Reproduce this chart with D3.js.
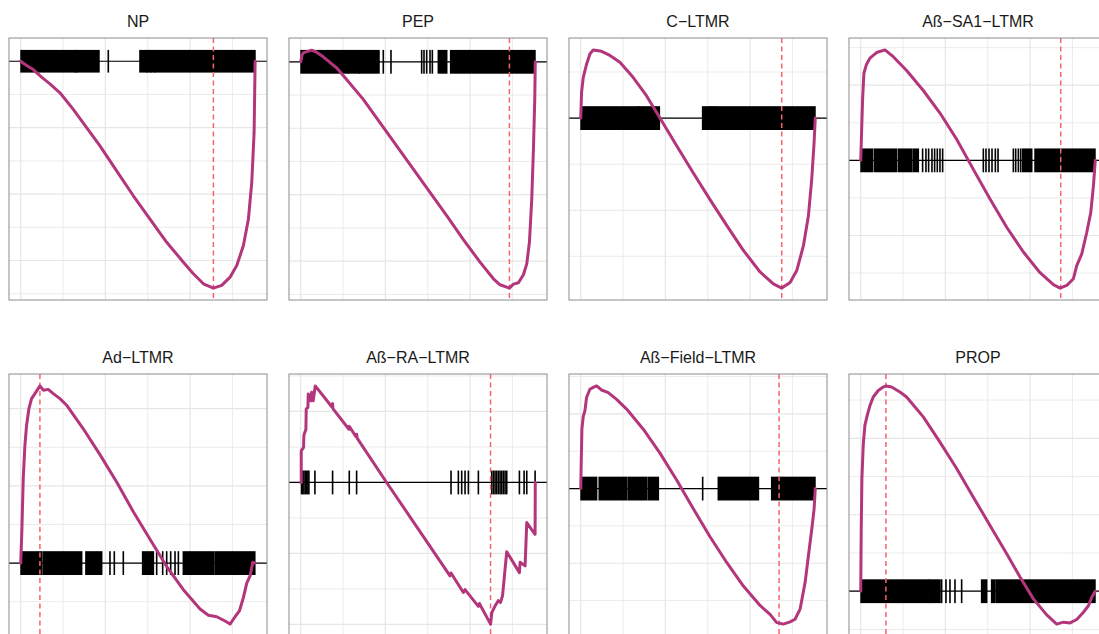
<!DOCTYPE html>
<html>
<head>
<meta charset="utf-8">
<script src="https://cdn.jsdelivr.net/npm/d3@7"></script>
<style>
  html, body { margin: 0; padding: 0; background: #ffffff; }
  svg { display: block; }
</style>
</head>
<body>
<div id="chart"></div>
<script>
// ---------------- DATA ----------------
const totalGenes = 27700;
const panelTitles = ["NP", "PEP", "C\u2212LTMR", "A\u00df\u2212SA1\u2212LTMR",
                     "Ad\u2212LTMR", "A\u00df\u2212RA\u2212LTMR", "A\u00df\u2212Field\u2212LTMR", "PROP"];

// running enrichment score: [rank, ES]
const esNP = [[0,0],[300,-0.006],[800,-0.014],[1478,-0.025],[2463,-0.048],[3448,-0.068],[4630,-0.095],[6206,-0.145],[7782,-0.2],[9358,-0.255],[11328,-0.33],[13298,-0.405],[15268,-0.475],[17238,-0.545],[19208,-0.605],[20390,-0.64],[21572,-0.67],[22754,-0.683],[23739,-0.675],[24724,-0.65],[25512,-0.615],[26300,-0.555],[26891,-0.475],[27285,-0.365],[27561,-0.215],[27679,-0.005],[27700,0]];
const esPEP = [[0,0],[150,0.02],[295,0.027],[1280,0.035],[1872,0.029],[2660,0.015],[4236,-0.018],[5418,-0.053],[7388,-0.113],[9358,-0.183],[11328,-0.253],[13298,-0.323],[15268,-0.393],[17238,-0.463],[19208,-0.535],[21178,-0.603],[22754,-0.653],[23542,-0.671],[24645,-0.681],[25118,-0.669],[25710,-0.665],[26300,-0.641],[26694,-0.608],[27010,-0.543],[27285,-0.413],[27482,-0.263],[27640,-0.113],[27700,0]];
const esCLTMR = [[0,0],[98,0.056],[295,0.088],[690,0.117],[1083,0.139],[1478,0.148],[2463,0.145],[3448,0.136],[4630,0.121],[6206,0.088],[7782,0.048],[9358,0],[11328,-0.06],[13298,-0.119],[15268,-0.177],[17238,-0.233],[19208,-0.287],[21178,-0.334],[22754,-0.36],[23739,-0.369],[24724,-0.357],[25512,-0.331],[26300,-0.277],[26891,-0.212],[27285,-0.132],[27561,-0.053],[27700,0]];
const esSA1 = [[0,0],[98,0.073],[217,0.161],[374,0.232],[690,0.256],[1083,0.272],[1872,0.287],[2857,0.294],[3842,0.276],[5418,0.239],[7388,0.186],[9358,0.126],[11328,0.056],[13298,-0.024],[15268,-0.103],[17238,-0.178],[19208,-0.244],[21178,-0.299],[22754,-0.331],[23542,-0.34],[24330,-0.333],[25118,-0.315],[25512,-0.28],[26103,-0.249],[26694,-0.192],[27167,-0.139],[27482,-0.068],[27700,0]];
const esAd = [[0,0],[138,0.088],[295,0.218],[493,0.305],[690,0.357],[965,0.4],[1280,0.426],[1675,0.439],[2266,0.459],[2660,0.448],[3250,0.45],[3842,0.439],[4630,0.426],[5418,0.409],[7388,0.348],[9358,0.281],[11328,0.21],[13298,0.133],[15268,0.062],[17238,-0.009],[19208,-0.069],[21178,-0.119],[22163,-0.135],[23148,-0.139],[24133,-0.15],[24724,-0.158],[25315,-0.139],[25827,-0.124],[26300,-0.089],[26694,-0.052],[27088,-0.033],[27404,0.002],[27700,0]];
const esRA = [[0,0],[59,0],[59,0.089],[335,0.099],[374,0.133],[611,0.15],[650,0.207],[847,0.211],[887,0.249],[1123,0.239],[1202,0.23],[1280,0.254],[1478,0.23],[1714,0.272],[3645,0.214],[3763,0.222],[3800,0.208],[5693,0.15],[5733,0.158],[6500,0.13],[6600,0.136],[6679,0.124],[10146,0],[17632,-0.263],[17750,-0.255],[19208,-0.31],[19405,-0.302],[20981,-0.349],[21100,-0.341],[22419,-0.399],[22577,-0.366],[22931,-0.349],[23325,-0.333],[23601,-0.338],[23837,-0.319],[24330,-0.195],[25827,-0.254],[25906,-0.225],[26497,-0.235],[26694,-0.113],[27679,-0.146],[27700,0]];
const esField = [[0,0],[59,0.07],[138,0.159],[295,0.193],[493,0.208],[690,0.244],[1083,0.266],[1478,0.271],[1872,0.275],[2463,0.264],[3250,0.257],[4236,0.239],[5418,0.213],[7388,0.159],[9358,0.095],[11328,0.023],[13298,-0.054],[15268,-0.129],[17238,-0.198],[19208,-0.261],[21178,-0.313],[22360,-0.337],[23148,-0.359],[23936,-0.363],[24724,-0.357],[25315,-0.35],[25906,-0.323],[26497,-0.252],[26891,-0.18],[27285,-0.109],[27561,-0.055],[27700,0]];
const esPROP = [[0,0],[59,0.163],[138,0.294],[295,0.382],[493,0.434],[768,0.46],[1083,0.485],[1478,0.508],[2069,0.525],[2660,0.534],[2975,0.537],[3645,0.534],[4630,0.521],[5418,0.508],[7388,0.456],[9358,0.39],[11328,0.321],[13298,0.246],[15268,0.172],[17238,0.098],[18814,0.037],[20390,-0.02],[21966,-0.062],[23148,-0.086],[23936,-0.081],[24724,-0.083],[25512,-0.074],[26300,-0.055],[26891,-0.038],[27285,-0.016],[27700,0]];

// gene-set hits: [fromRank, toRank] (single hit when equal)
const hitsNP = [[40,6380],[6440,6580],[6640,9236],[10343,10343],[14086,14850],[14920,15320],[15390,15830],[15900,27660]];
const hitsPEP = [[40,5580],[5660,6880],[6960,9240],[9752,9752],[10658,10658],[14283,14283],[14558,14558],[14874,14874],[15268,15268],[15544,15544],[16253,17238],[17710,27660]];
const hitsCLTMR = [[40,6770],[6840,6970],[7040,9279],[14401,15160],[15230,15440],[15500,15710],[15780,16030],[16100,27660]];
const hitsSA1 = [[40,1399],[1635,4236],[4472,6009],[6206,6797],[7309,7309],[7703,7703],[8018,8018],[8412,8412],[8727,8727],[9043,9043],[9358,9358],[9673,9673],[14480,14480],[14795,14795],[15150,15150],[15504,15504],[15898,15898],[16214,16214],[18026,18026],[18302,18302],[18617,18617],[18893,18893],[19129,20193],[20587,23542],[23739,27660]];
const hitsAd = [[40,2463],[2660,7191],[7703,9555],[10540,10540],[11052,11052],[12116,12116],[14401,15662],[16056,16056],[16765,16765],[17238,17238],[17710,17710],[18223,18223],[18617,18617],[19208,22754],[22951,27640]];
const hitsRA = [[98,98],[217,217],[374,374],[532,532],[690,690],[847,847],[965,965],[1675,1675],[3763,3763],[5733,5733],[6600,6600],[17750,17750],[18617,18617],[19011,19011],[19405,19405],[19799,19799],[20981,20981],[22557,22557],[22754,22754],[22951,22951],[23148,23148],[23345,23345],[23542,23542],[23739,23739],[23936,23936],[24133,24133],[24330,24330],[25827,25827],[26379,26379],[26694,26694],[27680,27680]];
const hitsField = [[40,1872],[2187,5418],[5615,7782],[7979,9161],[14401,14401],[16253,20981],[22557,27660]];
const hitsPROP = [[40,7950],[8050,9358],[9555,9555],[10067,10067],[10540,10540],[11131,11131],[11919,11919],[14283,14874],[15465,15859],[16056,27660]];

// rank of the leading-edge extreme (dashed line)
const peakRanks = [22754, 24645, 23739, 23620, 2266, 22419, 23424, 2975];

// x-axis grid breaks (ranks)
const xBreaks = [0, 5000, 10000, 15000, 20000, 25000];

// ---------------- CHART ----------------
const W = 1099, H = 634;
const esSeries = [esNP, esPEP, esCLTMR, esSA1, esAd, esRA, esField, esPROP];
const hitSeries = [hitsNP, hitsPEP, hitsCLTMR, hitsSA1, hitsAd, hitsRA, hitsField, hitsPROP];

const svg = d3.select("#chart").append("svg")
  .attr("width", W).attr("height", H)
  .attr("font-family", "'Liberation Sans', Arial, Helvetica, sans-serif");

const panelW = 258, panelH = 262;
const colStep = 280, rowStep = 336;
const left0 = 9, top0 = 38;

const curveColor = "#B3367C";
const dashColor = "#F8636A";
const gridColor = "#E6E6E6";

panelTitles.forEach((title, i) => {
  const col = i % 4, row = Math.floor(i / 4);
  const px = left0 + col * colStep;
  const py = top0 + row * rowStep;
  const es = esSeries[i];
  const hits = hitSeries[i];

  const esMax = d3.max(es, d => d[1]);
  const esMin = d3.min(es, d => d[1]);
  const tickH = (esMax - esMin) / 20;
  const lo = Math.min(esMin, -tickH), hi = Math.max(esMax, tickH);
  const yPad = (hi - lo) * 0.05;
  const xPad = totalGenes * 0.05;

  const x = d3.scaleLinear().domain([-xPad, totalGenes + xPad]).range([0, panelW]);
  const y = d3.scaleLinear().domain([lo - yPad, hi + yPad]).range([panelH, 0]);

  const g = svg.append("g").attr("transform", `translate(${px},${py})`);

  const clipId = "clip" + i;
  g.append("clipPath").attr("id", clipId)
    .append("rect").attr("width", panelW).attr("height", panelH);

  const inner = g.append("g").attr("clip-path", `url(#${clipId})`);

  // grid: y every 0.1, majors at 0.2
  const yLo = Math.ceil((lo - yPad) * 10), yHi = Math.floor((hi + yPad) * 10);
  const yBreaks = d3.range(yLo, yHi + 1);
  inner.selectAll("line.gy").data(yBreaks).join("line")
    .attr("x1", 0).attr("x2", panelW)
    .attr("y1", k => y(k / 10)).attr("y2", k => y(k / 10))
    .attr("stroke", gridColor)
    .attr("stroke-width", k => (Math.abs(k) % 2 === 0 ? 1.2 : 0.8));
  inner.selectAll("line.gx").data(xBreaks).join("line")
    .attr("y1", 0).attr("y2", panelH)
    .attr("x1", d => x(d)).attr("x2", d => x(d))
    .attr("stroke", gridColor)
    .attr("stroke-width", d => (d % 10000 === 0 ? 1.2 : 0.8));

  // zero line
  inner.append("line")
    .attr("x1", 0).attr("x2", panelW)
    .attr("y1", y(0)).attr("y2", y(0))
    .attr("stroke", "#000").attr("stroke-width", 1.2);

  // hits (rug)
  inner.selectAll("rect.hit").data(hits).join("rect")
    .attr("x", d => x(d[0]) - 0.8)
    .attr("width", d => Math.max(1.6, x(d[1]) - x(d[0]) + 1.6))
    .attr("y", y(tickH))
    .attr("height", y(-tickH) - y(tickH))
    .attr("fill", "#000");

  // dashed line at peak
  inner.append("line")
    .attr("x1", x(peakRanks[i])).attr("x2", x(peakRanks[i]))
    .attr("y1", 0).attr("y2", panelH)
    .attr("stroke", dashColor).attr("stroke-width", 1.5)
    .attr("stroke-dasharray", "5,3.5");

  // running ES curve
  inner.append("path")
    .datum(es)
    .attr("d", d3.line().x(d => x(d[0])).y(d => y(d[1])))
    .attr("fill", "none")
    .attr("stroke", curveColor)
    .attr("stroke-width", 3)
    .attr("stroke-linejoin", "round")
    .attr("stroke-linecap", "round");

  // border
  g.append("rect")
    .attr("x", 0).attr("y", 0).attr("width", panelW).attr("height", panelH)
    .attr("fill", "none").attr("stroke", "#8C8C8C").attr("stroke-width", 1);

  // title
  g.append("text")
    .attr("x", panelW / 2).attr("y", -11.5)
    .attr("text-anchor", "middle")
    .attr("font-size", 16)
    .attr("fill", "#1a1a1a")
    .text(title);
});
</script>
</body>
</html>
